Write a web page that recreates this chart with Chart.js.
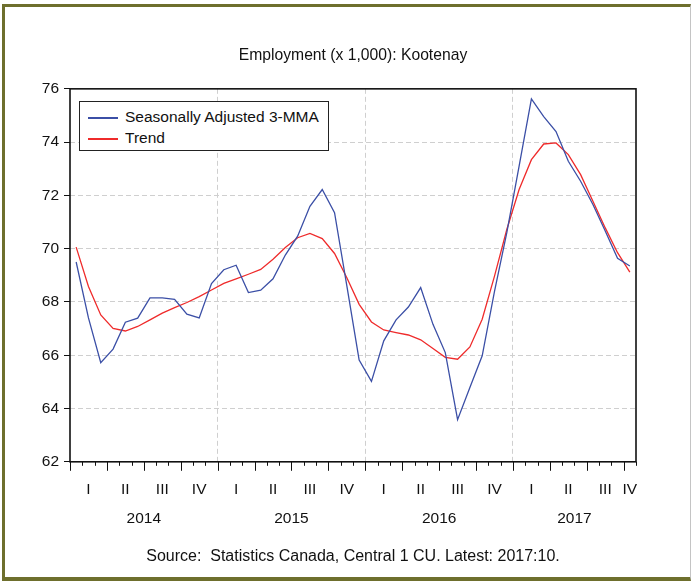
<!DOCTYPE html>
<html>
<head>
<meta charset="utf-8">
<title>Employment (x 1,000): Kootenay</title>
<script src="https://cdn.jsdelivr.net/npm/chart.js@4.4.0/dist/chart.umd.min.js"></script>
<style>
  html, body { margin: 0; padding: 0; background: #fff; }
  #wrap { position: relative; width: 691px; height: 581px; overflow: hidden; }
  #frame {
    position: absolute; left: 2px; top: 4px; width: 685px; height: 570px;
    border-left: 3px solid #6e6f2d; border-top: 3px solid #6e6f2d;
    border-bottom: 4px solid #6e6f2d; border-right: 1px solid #c4c4c4;
  }
  #chart { position: absolute; left: 0; top: 0; }
  .legend {
    position: absolute; left: 79px; top: 101px; width: 248px; height: 48px;
    border: 1px solid #222; background: #fff;
    font: 15.5px "Liberation Sans", Arial, sans-serif; color: #111;
  }
  .legend-item { position: absolute; left: 8px; height: 18px; line-height: 18px; white-space: nowrap; }
  .legend-swatch { display: inline-block; width: 30px; height: 1.5px; vertical-align: middle; margin-right: 7px; }
</style>
</head>
<body>
<div id="wrap">
  <div id="frame"></div>
  <canvas id="chart" width="691" height="581"></canvas>
  <div class="legend" id="legend"></div>
</div>
<script>
// ── data ────────────────────────────────────────
const months = [
  '2014:01','2014:02','2014:03','2014:04','2014:05','2014:06','2014:07','2014:08','2014:09','2014:10','2014:11','2014:12',
  '2015:01','2015:02','2015:03','2015:04','2015:05','2015:06','2015:07','2015:08','2015:09','2015:10','2015:11','2015:12',
  '2016:01','2016:02','2016:03','2016:04','2016:05','2016:06','2016:07','2016:08','2016:09','2016:10','2016:11','2016:12',
  '2017:01','2017:02','2017:03','2017:04','2017:05','2017:06','2017:07','2017:08','2017:09','2017:10',
];
const seasAdj = [
  69.50, 67.40, 65.72, 66.23, 67.24, 67.39, 68.15, 68.15, 68.10, 67.54, 67.40, 68.69,
  69.21, 69.38, 68.35, 68.44, 68.87, 69.76, 70.47, 71.59, 72.22, 71.35, 68.60, 65.82,
  65.02, 66.54, 67.33, 67.81, 68.54, 67.16, 66.10, 63.58, 64.79, 65.98, 68.40, 70.60,
  73.10, 75.62, 74.96, 74.40, 73.28, 72.53, 71.66, 70.66, 69.64, 69.35,
];
const trend = [
  70.06, 68.58, 67.51, 67.01, 66.91, 67.08, 67.33, 67.58, 67.79, 67.98, 68.20, 68.45,
  68.70, 68.87, 69.04, 69.22, 69.60, 70.04, 70.41, 70.57, 70.38, 69.82, 68.91, 67.91,
  67.25, 66.95, 66.85, 66.76, 66.58, 66.25, 65.92, 65.85, 66.31, 67.35, 68.97, 70.72,
  72.22, 73.34, 73.93, 73.97, 73.53, 72.78, 71.78, 70.78, 69.85, 69.12,
];
const quarterNames = ['I', 'II', 'III', 'IV'];
const yTicks = [62, 64, 66, 68, 70, 72, 74, 76];

const SERIES = [
  { label: 'Seasonally Adjusted 3-MMA', data: seasAdj, color: '#3b4fa6' },
  { label: 'Trend',                     data: trend,   color: '#ef2b2b' },
];

const FONT = '"Liberation Sans", Arial, sans-serif';
const GRID = '#cfcfcf';

// quarter / year label positions (in month units, 0 = start of Jan 2014)
const quarterAt = new Map();
const yearAt = new Map();
const yearBounds = [];
(() => {
  const groups = {};
  const ygroups = {};
  months.forEach((m, i) => {
    const [y, mo] = m.split(':').map(Number);
    const q = Math.floor((mo - 1) / 3);
    const k = y + '-' + q;
    (groups[k] = groups[k] || { q, first: i, last: i }).last = i;
    (ygroups[y] = ygroups[y] || { first: i, last: i }).last = i;
  });
  Object.values(groups).forEach(g => quarterAt.set((g.first + g.last + 1) / 2, quarterNames[g.q]));
  Object.entries(ygroups).forEach(([y, g]) => {
    yearAt.set((g.first + g.last + 1) / 2, y);
    if (g.first > 0) yearBounds.push(g.first);
  });
})();

// legend (html, sits inside the plot)
document.getElementById('legend').innerHTML = SERIES.map((s, i) => `
  <div class="legend-item" style="top:${6 + i * 21}px">
    <span class="legend-swatch" style="background:${s.color}"></span>${s.label}
  </div>`).join('');

// box round the plot + month / quarter tick marks
const frameTicks = {
  id: 'frameTicks',
  afterDatasetsDraw(chart) {
    const { ctx, chartArea: a, scales: { x } } = chart;
    ctx.save();
    ctx.strokeStyle = '#111';
    ctx.lineWidth = 1;
    for (let m = 0; m <= months.length; m++) {
      const px = Math.round(x.getPixelForValue(m)) + 0.5;
      const len = m % 3 === 0 ? 9 : 4;
      ctx.beginPath();
      ctx.moveTo(px, a.bottom);
      ctx.lineTo(px, a.bottom + len);
      ctx.stroke();
    }
    ctx.lineWidth = 1.6;
    ctx.strokeRect(a.left, a.top, a.right - a.left, a.bottom - a.top);
    ctx.restore();
  },
};

new Chart(document.getElementById('chart'), {
  type: 'line',
  data: {
    datasets: SERIES.map(s => ({
      label: s.label,
      data: s.data.map((v, i) => ({ x: i + 0.5, y: v })),
      borderColor: s.color,
      borderWidth: 1.3,
      pointRadius: 0,
      tension: 0,
      fill: false,
    })),
  },
  options: {
    responsive: false,
    animation: false,
    layout: { padding: { left: 0, right: 55, top: 0, bottom: 0 } },
    scales: {
      x: {
        type: 'linear',
        min: 0, max: months.length,
        afterBuildTicks: scale => {
          const vals = new Set();
          for (let m = 0; m <= months.length; m++) vals.add(m);
          quarterAt.forEach((_, v) => vals.add(v));
          yearAt.forEach((_, v) => vals.add(v));
          scale.ticks = [...vals].sort((a, b) => a - b).map(v => ({ value: v }));
        },
        afterFit: scale => { scale.height = 80; },
        ticks: {
          autoSkip: false, maxRotation: 0, minRotation: 0,
          padding: 13,
          color: '#111',
          font: { family: FONT, size: 15.5, lineHeight: '29px' },
          callback: v => {
            const q = quarterAt.get(v), y = yearAt.get(v);
            if (!q && !y) return '';
            return [q || '', y || ''];
          },
        },
        grid: {
          drawTicks: false,
          color: c => (c.tick && yearBounds.includes(c.tick.value)) ? GRID : 'rgba(0,0,0,0)',
          lineWidth: 1,
        },
        border: { display: false, dash: [5, 3] },
      },
      y: {
        min: 62, max: 76,
        afterBuildTicks: scale => { scale.ticks = yTicks.map(v => ({ value: v })); },
        afterFit: scale => { scale.width = 70; },
        ticks: {
          padding: 5,
          color: '#111',
          font: { family: FONT, size: 15.5 },
        },
        grid: {
          tickLength: 6,
          tickColor: '#111',
          color: c => (c.tick && (c.tick.value === 62 || c.tick.value === 76)) ? 'rgba(0,0,0,0)' : GRID,
          lineWidth: 1,
        },
        border: { display: false, dash: [5, 3] },
      },
    },
    plugins: {
      legend: { display: false },
      tooltip: { enabled: false },
      title: {
        display: true,
        fullSize: false,
        text: 'Employment (x 1,000): Kootenay',
        color: '#111',
        font: { family: FONT, size: 15.7, weight: 'normal', lineHeight: 1.2 },
        padding: { top: 46, bottom: 24 },
      },
      subtitle: {
        display: true,
        fullSize: false,
        position: 'bottom',
        text: 'Source:  Statistics Canada, Central 1 CU. Latest: 2017:10.',
        color: '#111',
        font: { family: FONT, size: 16, weight: 'normal', lineHeight: 1.2 },
        padding: { top: 5, bottom: 15 },
      },
    },
  },
  plugins: [frameTicks],
});
</script>
</body>
</html>
